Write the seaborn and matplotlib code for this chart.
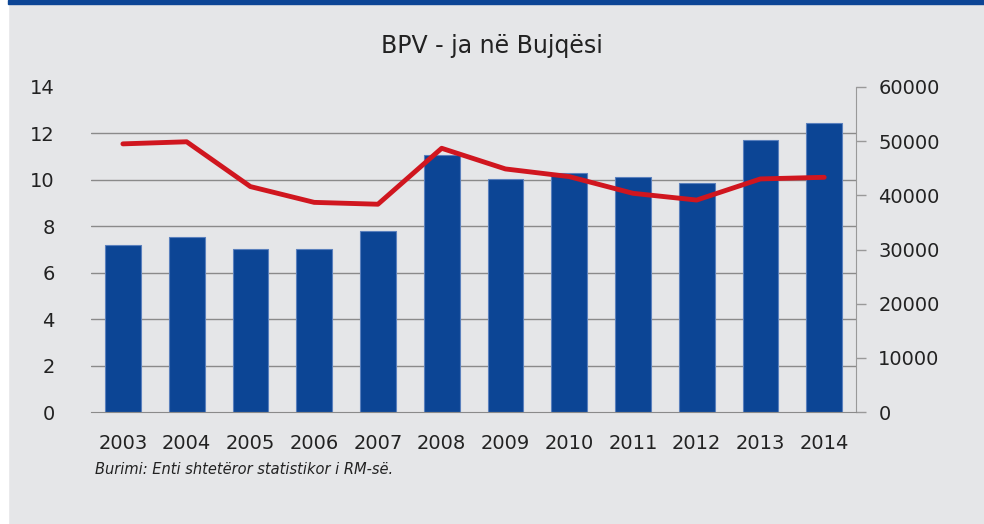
import numpy as np
import pandas as pd
import matplotlib
matplotlib.use("Agg")
import matplotlib.pyplot as plt
import seaborn as sns

# data
years = ["2003", "2004", "2005", "2006", "2007", "2008",
         "2009", "2010", "2011", "2012", "2013", "2014"]
bpv_value = [30800, 32300, 30100, 30100, 33400, 47400,
             43100, 44200, 43400, 42300, 50300, 53300]   # right axis (bars)
bpv_share = [11.55, 11.64, 9.71, 9.03, 8.95, 11.36,
             10.47, 10.14, 9.42, 9.13, 10.04, 10.11]     # left axis (line)
left_ticks = [0, 2, 4, 6, 8, 10, 12, 14]
right_ticks = [0, 10000, 20000, 30000, 40000, 50000, 60000]

bg = "#e5e6e8"
bar_color = "#0c4595"
line_color = "#d0161f"
text_color = "#222222"

sns.set_style("white")
plt.rcParams["font.family"] = ["DejaVu Sans"]

df = pd.DataFrame({"year": years, "value": bpv_value, "share": bpv_share,
                   "pos": np.arange(len(years))})

fig = plt.figure(figsize=(9.84, 5.24), dpi=100, facecolor=bg)
ax = fig.add_axes([0.0925, 0.2137, 0.7775, 0.6203])
ax.set_facecolor(bg)

# bars on the primary axes, labelled on the right
sns.barplot(data=df, x="year", y="value", color=bar_color, width=0.56,
            saturation=1, edgecolor="#5a80bd", linewidth=0.8, ax=ax, zorder=2)
ax.set_ylim(0, 60000)
ax.set_xlim(-0.5, len(years) - 0.5)

# line on a twin axes, labelled on the left
ax2 = ax.twinx()
sns.lineplot(data=df, x="pos", y="share", color=line_color, linewidth=3.5,
             ax=ax2, solid_capstyle="round")
ax2.set_ylim(0, 14)
ax2.set_xlim(-0.5, len(years) - 0.5)

ax.yaxis.tick_right()
ax.yaxis.set_label_position("right")
ax.set_yticks(right_ticks)
ax.set_yticklabels([str(t) for t in right_ticks])
ax.tick_params(axis="y", which="major", length=7, width=1, color="#999999",
               labelsize=14, labelcolor=text_color, pad=9,
               left=False, labelleft=False, right=True, labelright=True)
# gridlines follow the left (0-14) scale
ax.set_yticks([t / 14 * 60000 for t in left_ticks], minor=True)
ax.tick_params(axis="y", which="minor", length=0, left=False, right=False)
ax.grid(axis="y", which="minor", color="#8a8a8a", linewidth=1, zorder=0)
ax.grid(axis="y", which="major", visible=False)
ax.set_axisbelow(True)
ax.tick_params(axis="x", length=0, labelsize=14, labelcolor=text_color, pad=16)
ax.set_xlabel("")
ax.set_ylabel("")
for side in ["top", "left"]:
    ax.spines[side].set_visible(False)
ax.spines["right"].set_color("#999999")
ax.spines["bottom"].set_color("#8a8a8a")

ax2.yaxis.tick_left()
ax2.set_yticks(left_ticks)
ax2.tick_params(axis="y", length=0, labelsize=14, labelcolor=text_color, pad=26,
                left=True, labelleft=True, right=False, labelright=False)
ax2.set_ylabel("")
ax2.set_xlabel("")
for side in ["top", "left", "right", "bottom"]:
    ax2.spines[side].set_visible(False)

fig.text(0.5, 0.913, "BPV - ja në Bujqësi", ha="center", va="center",
         fontsize=17, color=text_color)
fig.text(0.097, 0.104, "Burimi: Enti shtetëror statistikor i RM-së.",
         ha="left", va="center", fontsize=10.5, style="italic", color=text_color)

# white strip on the left and blue band on top
fig.patches.append(plt.Rectangle((0, 0), 0.0081, 1, transform=fig.transFigure,
                                 color="white", zorder=5))
fig.patches.append(plt.Rectangle((0.0081, 0.9924), 1, 0.0076,
                                 transform=fig.transFigure,
                                 color=bar_color, zorder=5))

fig.savefig("out.png", dpi=100, facecolor=bg)
